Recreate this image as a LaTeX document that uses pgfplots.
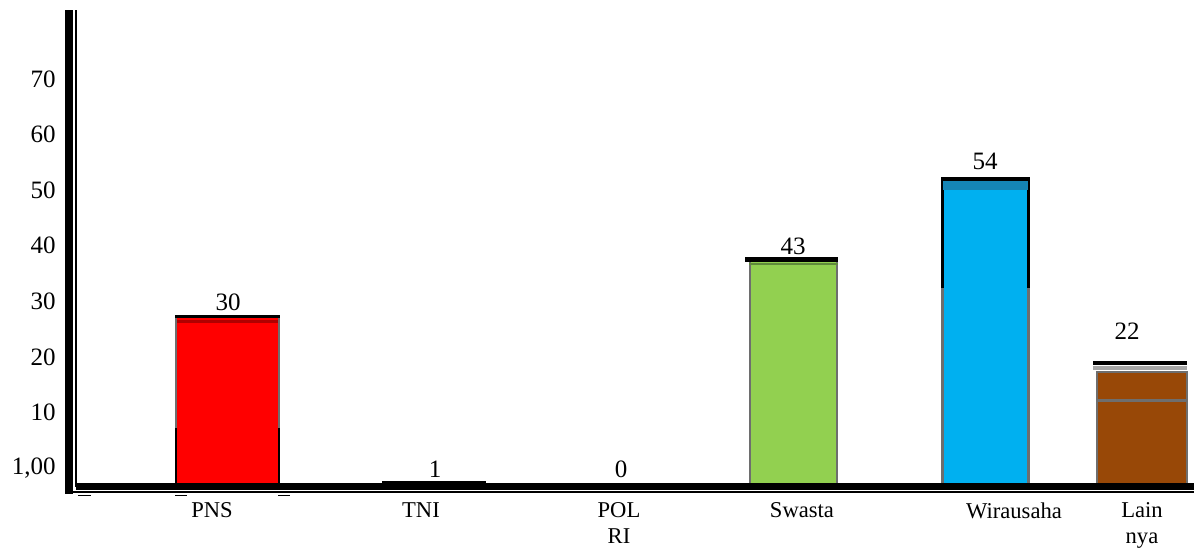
\documentclass[border=0pt]{standalone}
\usepackage{pgfplots}
\pgfplotsset{compat=1.18}
\usepackage{fontspec}
\setmainfont{Liberation Serif}
\definecolor{pnsred}{HTML}{FF0000}
\definecolor{darkred}{HTML}{B00000}
\definecolor{swgreen}{HTML}{92D050}
\definecolor{swshade}{HTML}{5F8A3A}
\definecolor{wblue}{HTML}{00B0F0}
\definecolor{wdblue}{HTML}{1585B5}
\definecolor{lbrown}{HTML}{984807}
\definecolor{edgegray}{HTML}{6E6E6E}
\definecolor{lgray}{HTML}{A6A6A6}
\begin{document}
\begin{tikzpicture}
\path[use as bounding box] (0pt,0pt) rectangle (597pt,274pt);
\begin{axis}[
  at={(38pt,30.5pt)}, anchor=south west,
  scale only axis, width=559pt, height=238.5pt,
  xmin=76, xmax=1194, ymin=0, ymax=85.8,
  clip=false,
  axis line style={draw=none},
  tick style={draw=none},
  major tick length=0pt,
  ytick={3.4,13.4,23.4,33.4,43.4,53.4,63.4,73.4},
  yticklabels={{1,00},10,20,30,40,50,60,70},
  xtick={212,421,619,802,1014,1142},
  xticklabels={PNS,TNI,POL\\RI,Swasta,Wirausaha,Lain\\nya},
  yticklabel style={font=\fontsize{12.5}{15}\selectfont, inner sep=0pt, anchor=east, xshift=-10pt},
  xticklabel style={font=\fontsize{11.3}{13.3}\selectfont, inner sep=0pt, anchor=north, align=center, yshift=-7.5pt},
]
% PNS
\addplot[ybar, bar shift=0pt, bar width=105, fill=pnsred, draw=none] coordinates {(227.5,30.9)};
\addplot[black, line width=1pt] coordinates {(176,0) (176,10.6)};
\addplot[edgegray, line width=1pt] coordinates {(176,10.6) (176,30.9)};
\addplot[black, line width=1pt] coordinates {(279,0) (279,10.6)};
\addplot[edgegray, line width=1pt] coordinates {(279,10.6) (279,30.9)};
\addplot[darkred, line width=1.5pt] coordinates {(177,29.8) (278,29.8)};
\addplot[black, line width=1.5pt] coordinates {(175,30.67) (280,30.67)};
% TNI
\addplot[ybar, bar shift=0pt, bar width=104, fill=black, draw=none] coordinates {(434,1.1)};
% POL RI
\addplot[ybar, bar shift=0pt, bar width=100, fill=black, draw=none] coordinates {(619,0)};
% Swasta
\addplot[ybar, bar shift=0pt, bar width=89, fill=swgreen, draw=none] coordinates {(793.5,40.5)};
\addplot[edgegray, line width=1pt] coordinates {(750,0) (750,40.5)};
\addplot[edgegray, line width=1pt] coordinates {(837,0) (837,40.5)};
\addplot[swshade, line width=1pt] coordinates {(749,40.2) (838,40.2)};
\addplot[black, line width=2.5pt] coordinates {(745,40.9) (838,40.9)};
% Wirausaha
\addplot[ybar, bar shift=0pt, bar width=89, fill=wblue, draw=none] coordinates {(985.5,53.4)};
\addplot[edgegray, line width=1.5pt] coordinates {(942.5,0) (942.5,35.8)};
\addplot[edgegray, line width=1.5pt] coordinates {(1028.5,0) (1028.5,35.8)};
\addplot[black, line width=1.5pt] coordinates {(942.5,35.8) (942.5,55.8)};
\addplot[black, line width=1.5pt] coordinates {(1028.5,35.8) (1028.5,55.8)};
\addplot[wdblue, line width=4.5pt] coordinates {(943,54.2) (1028,54.2)};
\addplot[black, line width=2pt] coordinates {(941,55.4) (1030,55.4)};
% Lain nya
\addplot[ybar, bar shift=0pt, bar width=90, fill=lbrown, draw=edgegray, line width=1pt] coordinates {(1142,20.7)};
\addplot[edgegray, line width=1.5pt] coordinates {(1097,15.5) (1187,15.5)};
\addplot[lgray, line width=2pt] coordinates {(1093,21.4) (1187,21.4)};
\addplot[black, line width=2pt] coordinates {(1093,22.3) (1187,22.3)};
% value labels
\node[font=\fontsize{12.5}{15}\selectfont, inner sep=0pt] at (axis cs:228,33.3) {30};
\node[font=\fontsize{12.5}{15}\selectfont, inner sep=0pt] at (axis cs:435,3.2) {1};
\node[font=\fontsize{12.5}{15}\selectfont, inner sep=0pt] at (axis cs:621,3.2) {0};
\node[font=\fontsize{12.5}{15}\selectfont, inner sep=0pt] at (axis cs:793,43.3) {43};
\node[font=\fontsize{12.5}{15}\selectfont, inner sep=0pt] at (axis cs:985,58.5) {54};
\node[font=\fontsize{12.5}{15}\selectfont, inner sep=0pt] at (axis cs:1127,28.1) {22};
% axis lines
\draw[line width=4pt] (axis cs:69,85.8) -- (axis cs:69,-1.26);
\draw[line width=0.9pt] (axis cs:76,85.8) -- (axis cs:76,0);
\draw[line width=3.5pt] (axis cs:76,0.09) -- (axis cs:1194,0.09);
\draw[line width=0.75pt] (axis cs:73,-0.9) -- (axis cs:1194,-0.9);
\draw[line width=0.75pt] (axis cs:78,-1.5) -- (axis cs:91,-1.5);
\draw[line width=0.75pt] (axis cs:175,-1.5) -- (axis cs:187,-1.5);
\draw[line width=0.75pt] (axis cs:278,-1.5) -- (axis cs:290,-1.5);
\end{axis}
\end{tikzpicture}
\end{document}
